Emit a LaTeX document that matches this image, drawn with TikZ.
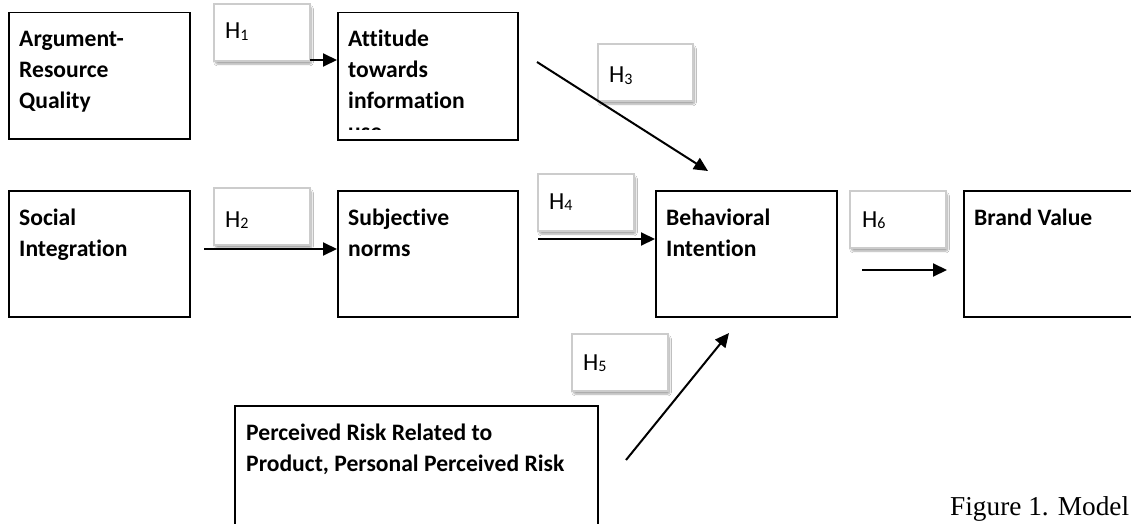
\documentclass[tikz,border=0pt]{standalone}
\usepackage{fontspec}
\newfontfamily\calfont[Ligatures={NoCommon}]{Carlito}
\newfontfamily\capfont{Liberation Serif}
\usetikzlibrary{arrows.meta,shadows.blur,calc}
\newcommand\hsub[1]{\raisebox{-1.2pt}{\fontsize{16}{16}\selectfont #1}}
\begin{document}
\begin{tikzpicture}[x=1pt,y=-1pt,
  cbox/.style={draw, line width=1.5pt, inner sep=0pt, anchor=north west, rectangle, minimum width=181pt, minimum height=126pt},
  btxt/.style={anchor=base west, inner sep=0pt, font=\calfont\bfseries\fontsize{23.6}{31}\selectfont},
  hbox/.style={draw=black!20, line width=2.2pt, fill=white, inner sep=0pt, anchor=north west, minimum width=96pt, minimum height=57pt,
     blur shadow={shadow xshift=1.5pt, shadow yshift=-3pt, shadow blur steps=8, shadow blur extra rounding=2pt, shadow opacity=35}},
  htxt/.style={anchor=base west, inner sep=0pt, font=\calfont\fontsize{24.5}{28}\selectfont},
  arr/.style={line width=2pt, -{Triangle[length=14pt,width=13pt]}}
]
\useasboundingbox (0,0) rectangle (1131,524);
\clip (0,0) rectangle (1131,524);
\fill[white] (0,0) rectangle (1131,524);

% main boxes
\node[cbox] (arq) at (8,12) {};
\node[cbox, minimum width=180pt, minimum height=127pt] (att) at (337,12) {};
\node[cbox] (soc) at (8,190) {};
\node[cbox, minimum width=180pt] (sub) at (337,190) {};
\node[cbox] (bi) at (655,190) {};
\node[cbox] (bv) at (963,190) {};
\node[cbox, minimum width=363pt, minimum height=140pt] (prr) at (234,405) {};

% box texts
\node[btxt] (arqt) at (19,47) {\parbox[t]{200pt}{\raggedright Argument-\\Resource\\Quality}};
\begin{scope}
\clip (337,12) rectangle (517,129.5);
\node[btxt] (attt) at (348,47) {\parbox[t]{200pt}{\raggedright Attitude\\towards\\information\\use}};
\end{scope}
\node[btxt] (soct) at (19,225) {\parbox[t]{200pt}{\raggedright Social\\Integration}};
\node[btxt] (subt) at (348,225) {\parbox[t]{200pt}{\raggedright Subjective\\norms}};
\node[btxt] (bit) at (666,225) {\parbox[t]{200pt}{\raggedright Behavioral\\Intention}};
\node[btxt] (bvt) at (974,225) {Brand Value};
\node[btxt] (prrt) at (246,440) {\parbox[t]{420pt}{\raggedright Perceived Risk Related to\\Product, Personal Perceived Risk}};

% hypothesis boxes
\node[hbox] (h1) at (213,3) {};
\node[hbox] (h2) at (213,187) {};
\node[hbox, minimum width=95pt] (h3) at (597,43) {};
\node[hbox] (h4) at (537,173) {};
\node[hbox] (h5) at (571,333) {};
\node[hbox] (h6) at (849,190) {};
\node[htxt] (h1t) at (225,39) {H\hsub{1}};
\node[htxt] (h2t) at (225,227) {H\hsub{2}};
\node[htxt] (h3t) at (609,83) {H\hsub{3}};
\node[htxt] (h4t) at (549,209) {H\hsub{4}};
\node[htxt] (h5t) at (583,370) {H\hsub{5}};
\node[htxt] (h6t) at (862,227) {H\hsub{6}};

% connectors
\coordinate (a1) at (310,60);
\coordinate (a2) at (204,249);
\coordinate (a3s) at (537,62);
\coordinate (a3e) at (708,171);
\coordinate (a4) at (538,239);
\coordinate (a5s) at (626,460);
\coordinate (a5e) at (729,333);
\coordinate (a6s) at (862,270);
\coordinate (a6e) at (947,270);
\draw[arr] (a1) -- (a1 -| att.west);
\draw[arr] (a2) -- (a2 -| sub.west);
\draw[arr] (a3s) -- (a3e);
\draw[arr] (a4) -- (a4 -| bi.west);
\draw[arr] (a5s) -- (a5e);
\draw[arr] (a6s) -- (a6e);

% caption
\node[anchor=base west, inner sep=0pt, font=\capfont\fontsize{27.3}{30}\selectfont] (cap) at (950,515) {Figure 1. Model};
\end{tikzpicture}
\end{document}
